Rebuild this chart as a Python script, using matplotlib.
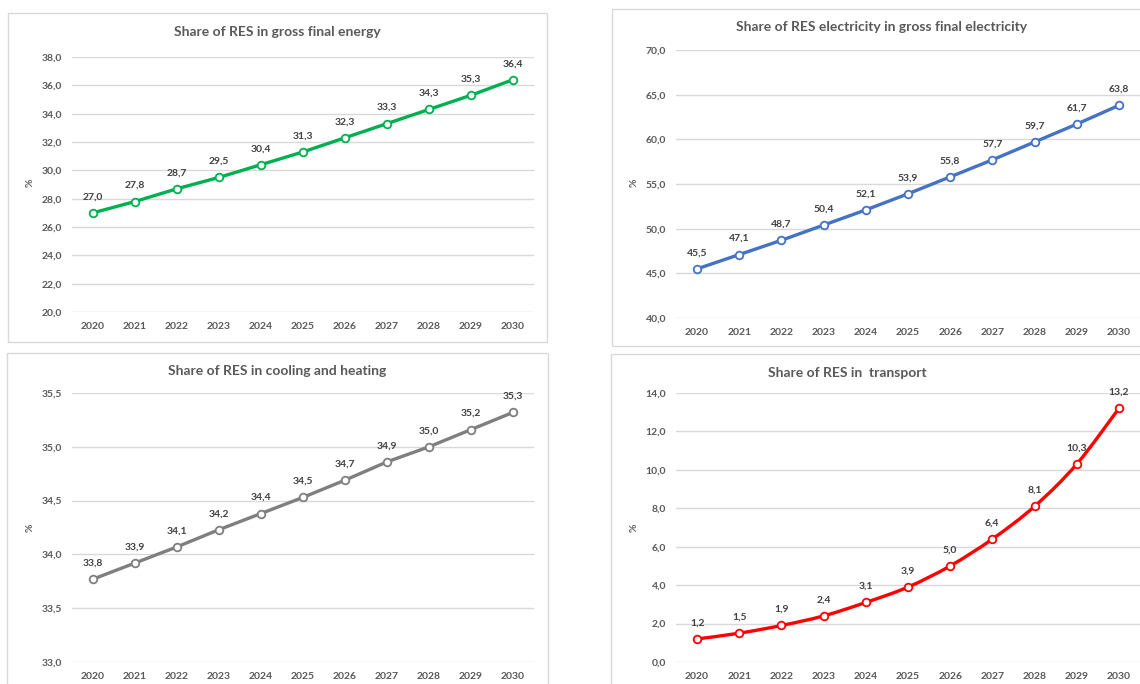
import matplotlib
matplotlib.use("Agg")
import matplotlib.pyplot as plt
from matplotlib.patches import Rectangle, PathPatch
from matplotlib.path import Path
import numpy as np

years = ["2020", "2021", "2022", "2023", "2024", "2025", "2026", "2027", "2028", "2029", "2030"]

gross_final_energy = [27.0, 27.8, 28.7, 29.5, 30.4, 31.3, 32.3, 33.3, 34.3, 35.3, 36.4]
res_electricity = [45.5, 47.1, 48.7, 50.4, 52.1, 53.9, 55.8, 57.7, 59.7, 61.7, 63.8]
cooling_heating = [33.77, 33.92, 34.07, 34.23, 34.38, 34.53, 34.69, 34.86, 35.00, 35.16, 35.32]
transport = [1.2, 1.5, 1.9, 2.4, 3.1, 3.9, 5.0, 6.4, 8.1, 10.3, 13.2]

titles = [
    "Share of RES in gross final energy",
    "Share of RES electricity in gross final electricity",
    "Share of RES in cooling and heating",
    "Share of RES in  transport",
]

W, H = 1140, 684
plt.rcParams["font.family"] = ["Lato", "DejaVu Sans"]

fig = plt.figure(figsize=(W / 100, H / 100), dpi=100)
fig.patch.set_facecolor("white")


def fig_rect(l, t, r, b):
    return [l / W, 1 - b / H, (r - l) / W, (b - t) / H]


def fmt(v):
    return f"{v:.1f}".replace(".", ",")


GRID = "#D9D9D9"
TXT = "#595959"
LBL = "#404040"


def smooth_path(x, y):
    # Catmull-Rom style smoothing expressed as cubic Bezier segments
    x = np.asarray(x, float)
    y = np.asarray(y, float)
    n = len(x)
    verts = [(x[0], y[0])]
    codes = [Path.MOVETO]
    for i in range(n - 1):
        x0, y0 = (x[i - 1], y[i - 1]) if i > 0 else (x[i], y[i])
        x3, y3 = (x[i + 2], y[i + 2]) if i + 2 < n else (x[i + 1], y[i + 1])
        c1 = (x[i] + (x[i + 1] - x0) / 6, y[i] + (y[i + 1] - y0) / 6)
        c2 = (x[i + 1] - (x3 - x[i]) / 6, y[i + 1] - (y3 - y[i]) / 6)
        verts += [c1, c2, (x[i + 1], y[i + 1])]
        codes += [Path.CURVE4] * 3
    return Path(verts, codes)


def panel(border, box, values, ylim, yticks, color, title, title_xy, ylabel_xy, smooth=False):
    fig.patches.append(Rectangle((border[0] / W, 1 - border[3] / H),
                                 (border[2] - border[0]) / W, (border[3] - border[1]) / H,
                                 transform=fig.transFigure, fill=False,
                                 edgecolor=GRID, linewidth=1.0, zorder=0))
    ax = fig.add_axes(fig_rect(*box))
    ax.set_facecolor("none")
    x = np.arange(len(years))
    if smooth:
        ax.add_patch(PathPatch(smooth_path(x, values), facecolor="none",
                               edgecolor=color, linewidth=2.4, zorder=3,
                               capstyle="round", joinstyle="round"))
        ax.plot(x, values, linestyle="none", marker="o", markersize=5.5,
                markerfacecolor="white", markeredgecolor=color,
                markeredgewidth=1.3, zorder=4)
    else:
        ax.plot(x, values, color=color, linewidth=2.4, marker="o", markersize=5.5,
                markerfacecolor="white", markeredgecolor=color,
                markeredgewidth=1.3, zorder=4, solid_capstyle="round")
    for xi, v in zip(x, values):
        ax.annotate(fmt(v), (xi, v), xytext=(0, 16), textcoords="offset pixels",
                    ha="center", va="center", fontsize=7.5, fontweight="bold",
                    color=LBL, zorder=5)
    ax.set_xlim(-0.5, len(years) - 0.5)
    ax.set_ylim(*ylim)
    ax.set_xticks(x)
    ax.set_xticklabels(years)
    ax.set_yticks(yticks)
    ax.set_yticklabels([fmt(t) for t in yticks])
    for s in ax.spines.values():
        s.set_visible(False)
    ax.grid(axis="y", color=GRID, linewidth=1.0)
    ax.set_axisbelow(True)
    ax.tick_params(axis="both", length=0, labelcolor=TXT, labelsize=7.5)
    ax.tick_params(axis="x", pad=7.5)
    ax.tick_params(axis="y", pad=7)
    for lab in ax.get_xticklabels():
        lab.set_fontweight("bold")
    for lab in ax.get_yticklabels():
        lab.set_fontweight("bold")
    fig.text(title_xy[0] / W, 1 - title_xy[1] / H, title, ha="center", va="center",
             fontsize=10, fontweight="bold", color=TXT)
    fig.text(ylabel_xy[0] / W, 1 - ylabel_xy[1] / H, "%", ha="center", va="center",
             rotation=90, fontsize=7.5, fontweight="bold", color=TXT)
    return ax


panel((8, 13, 547, 342), (72, 57, 534, 312), gross_final_energy, (20, 38),
      np.arange(20, 38.01, 2), "#00B050", titles[0], (277, 32), (30, 183))
panel((612, 9, 1160, 346), (676, 50, 1140, 318), res_electricity, (40, 70),
      np.arange(40, 70.01, 5), "#4472C4", titles[1], (882, 27), (634, 183))
panel((7, 353, 548, 700), (72, 393, 534, 662), cooling_heating, (33, 35.5),
      np.arange(33, 35.51, 0.5), "#7F7F7F", titles[2], (277, 371), (30, 528))
panel((611, 354, 1160, 700), (676, 393, 1140, 662), transport, (0, 14),
      np.arange(0, 14.01, 2), "#FF0000", titles[3], (847, 373), (634, 528), smooth=True)

fig.savefig("out.png", dpi=100, facecolor="white")
